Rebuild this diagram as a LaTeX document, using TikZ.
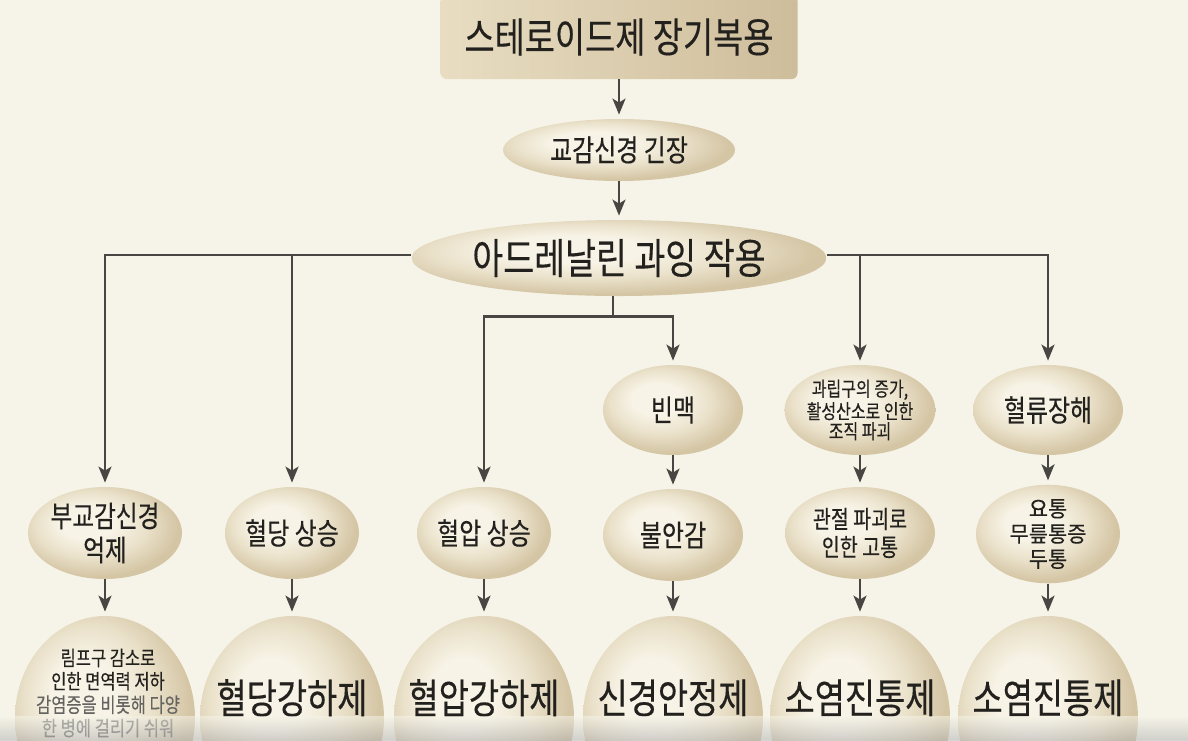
\documentclass[tikz,border=0pt]{standalone}
\usepackage{fontspec}
\newfontfamily\kr[FakeStretch=0.8,FakeBold=0.3]{Noto Sans CJK KR}
\newfontfamily\krn[FakeStretch=0.95,FakeBold=0.3]{Noto Sans CJK KR}
\usetikzlibrary{shapes.geometric,arrows.meta,calc}
\definecolor{bg}{RGB}{246,244,232}
\definecolor{egglight}{RGB}{247,243,230}
\definecolor{eggmid}{RGB}{234,225,202}
\definecolor{eggdark}{RGB}{212,197,164}
\definecolor{boxlight}{RGB}{232,221,194}
\definecolor{boxdark}{RGB}{206,189,155}
\definecolor{ln}{RGB}{72,70,66}
\definecolor{tx}{RGB}{35,33,30}
\pgfdeclareradialshading{eggshade}{\pgfpoint{-7bp}{7bp}}{%
  color(0bp)=(egglight); color(9bp)=(egglight); color(18bp)=(eggmid);
  color(27bp)=(eggdark); color(50bp)=(eggdark)}
\tikzset{
  egg/.style={ellipse, inner sep=0pt, shading=eggshade, text=tx, align=center},
  topbox/.style={rectangle, rounded corners=3pt, inner sep=0pt, left color=boxlight,
    right color=boxdark, text=tx},
  arr/.style={draw=ln, line width=1.1pt, -{Stealth[length=8pt,width=6.5pt,inset=2pt]}, shorten >=2pt},
  plain/.style={draw=ln, line width=1.1pt},
  bigtxt/.style={text=tx, font=\kr\fontsize{20.5pt}{23pt}\selectfont},
}
\begin{document}
\begin{tikzpicture}[x=0.5pt,y=-0.5pt]
\useasboundingbox (0,0) rectangle (1188,740);
\clip (0,0) rectangle (1188,740);
\fill[bg] (0,0) rectangle (1188,740);

% top
\node[topbox, minimum width=178.5pt, minimum height=42pt, font=\kr\fontsize{20.5pt}{23pt}\selectfont] (top) at (619,37) {스테로이드제 장기복용};
\node[egg, minimum width=116pt, minimum height=31pt, font=\kr\fontsize{15pt}{17pt}\selectfont] (sym) at (619,150) {교감신경 긴장};
\node[egg, minimum width=205pt, minimum height=38pt, font=\kr\fontsize{21pt}{23pt}\selectfont] (adr) at (619,258) {아드레날린 과잉 작용};

% row 2
\node[egg, minimum width=70pt, minimum height=45pt, font=\kr\fontsize{15pt}{18pt}\selectfont] (bin) at (673,410) {빈맥};
\node[egg, minimum width=75pt, minimum height=45pt, font=\kr\fontsize{10pt}{10pt}\selectfont] (gran) at (860,410) {과립구의 증가,\\활성산소로 인한\\조직 파괴};
\node[egg, minimum width=75pt, minimum height=45pt, font=\kr\fontsize{15pt}{18pt}\selectfont] (flow) at (1048,410) {혈류장해};

% row 3
\node[egg, minimum width=70pt, minimum height=46pt, font=\kr\fontsize{14.8pt}{17pt}\selectfont] (para) at (105,533) {부교감신경\\억제};
\node[egg, minimum width=67pt, minimum height=46pt, font=\kr\fontsize{15pt}{18pt}\selectfont] (glu) at (292,533) {혈당 상승};
\node[egg, minimum width=67pt, minimum height=46pt, font=\kr\fontsize{15pt}{18pt}\selectfont] (bp) at (484,533) {혈압 상승};
\node[egg, minimum width=70pt, minimum height=46pt, font=\kr\fontsize{15pt}{18pt}\selectfont] (anx) at (673,535) {불안감};
\node[egg, minimum width=75pt, minimum height=46pt, font=\kr\fontsize{12.2pt}{14pt}\selectfont] (joint) at (860,533) {관절 파괴로\\인한 고통};
\node[egg, minimum width=72pt, minimum height=46pt, font=\krn\fontsize{11pt}{12.6pt}\selectfont] (pain) at (1048,534) {요통\\무릎통증\\두통};

% row 4
\node[egg, minimum width=90pt, minimum height=102pt] (c1) at (105,718) {};
\node[egg, minimum width=92pt, minimum height=102pt] (c2) at (292,718) {};
\node[egg, minimum width=90pt, minimum height=102pt] (c3) at (484,718) {};
\node[egg, minimum width=90pt, minimum height=102pt] (c4) at (673,718) {};
\node[egg, minimum width=90pt, minimum height=102pt] (c5) at (860,718) {};
\node[egg, minimum width=90pt, minimum height=102pt] (c6) at (1048,718) {};

\node[text=tx, align=center, font=\kr\fontsize{10.3pt}{11.7pt}\selectfont] (t1) at (108,693)
  {림프구 감소로\\인한 면역력 저하\\{\color{tx!70}감염증을 비롯해 다양}\\{\color{tx!70}한 병에 걸리기 쉬워}};
\node[bigtxt] (t2) at ([yshift=10pt]c2.center) {혈당강하제};
\node[bigtxt] (t3) at ([yshift=10pt]c3.center) {혈압강하제};
\node[bigtxt] (t4) at ([yshift=10pt]c4.center) {신경안정제};
\node[bigtxt] (t5) at ([yshift=10pt]c5.center) {소염진통제};
\node[bigtxt] (t6) at ([yshift=10pt]c6.center) {소염진통제};

% connectors
\draw[arr] (top.south) -- (sym.north);
\draw[arr] (sym.south) -- (adr.north);
\draw[arr] ([yshift=1.5pt]adr.west) -| (para.north);
\draw[arr] ([yshift=1.5pt]adr.west -| glu.north) -- (glu.north);
\draw[arr] ([yshift=1.5pt]adr.east) -| (flow.north);
\draw[arr] ([yshift=1.5pt]adr.east -| gran.north) -- (gran.north);
\coordinate (j) at ([yshift=-10pt,xshift=-3pt]adr.south);
\draw[plain] ([xshift=-3pt]adr.south) -- (j);
\draw[arr] (j) -| (bp.north);
\draw[arr] (j) -| (bin.north);

\draw[arr] (bin.south) -- (anx.north);
\draw[arr] (gran.south) -- (joint.north);
\draw[arr] (flow.south) -- (pain.north);

\draw[arr] (para.south) -- (c1.north);
\draw[arr] (glu.south) -- (c2.north);
\draw[arr] (bp.south) -- (c3.north);
\draw[arr] (anx.south) -- (c4.north);
\draw[arr] (joint.south) -- (c5.north);
\draw[arr] (pain.south) -- (c6.north);

% scan shadow at the bottom edge
\shade[top color=bg, bottom color=gray!60, opacity=0.55] (0,716) rectangle (1188,740);
\end{tikzpicture}
\end{document}
